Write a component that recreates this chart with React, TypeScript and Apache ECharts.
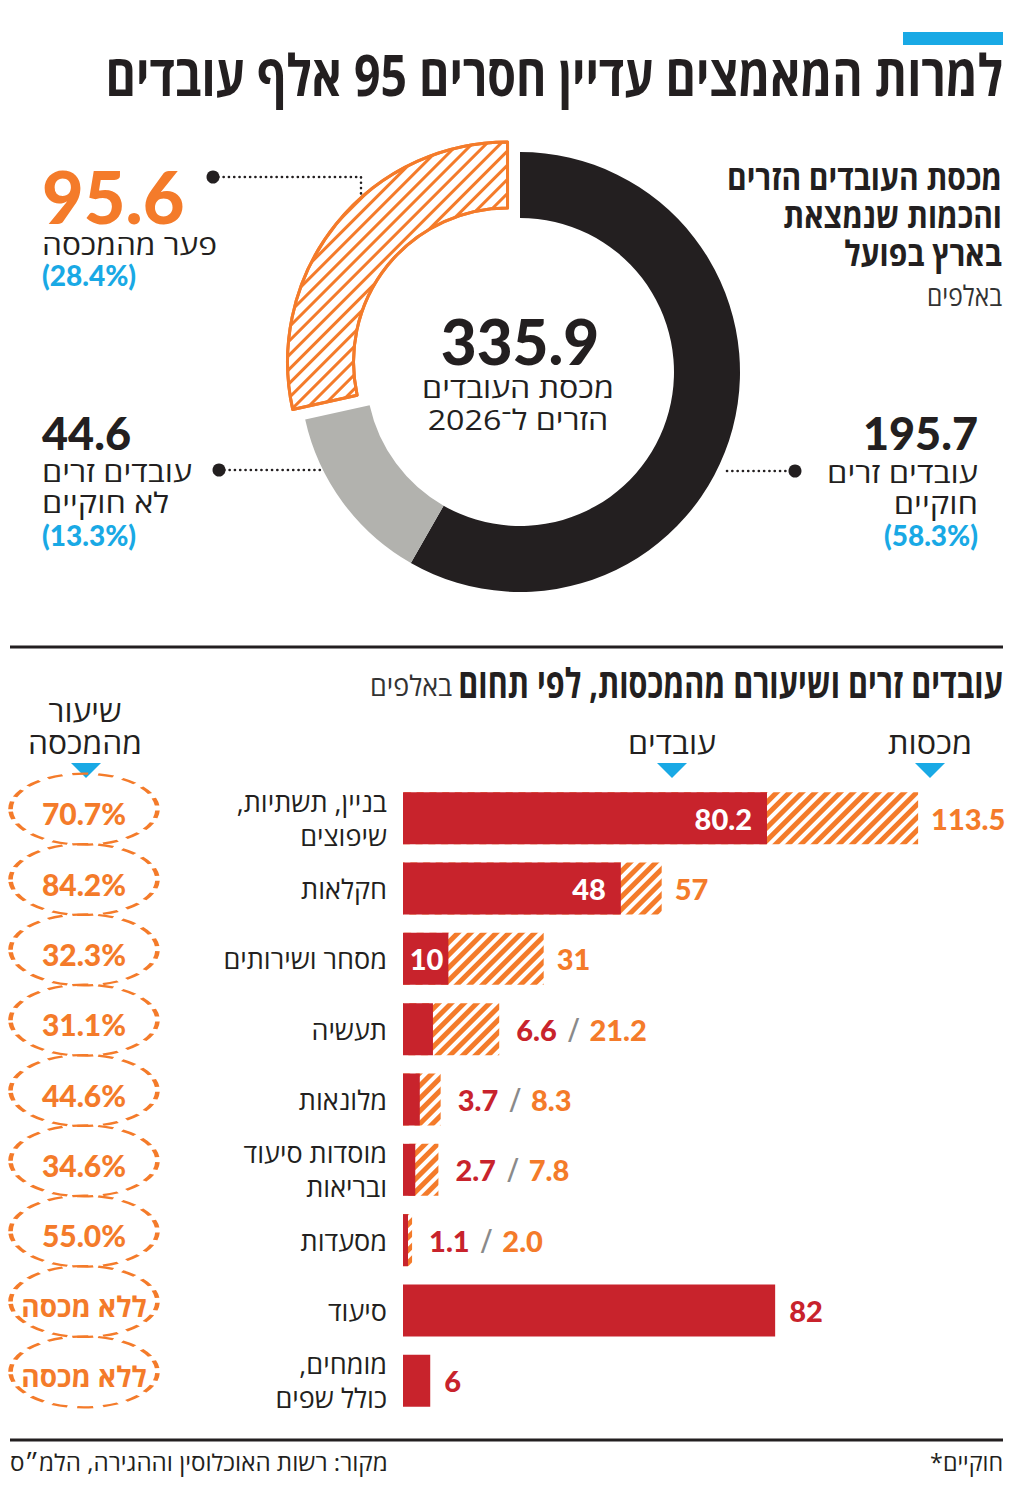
import React, { useEffect, useRef } from 'react';
import * as echarts from 'echarts';

// Palette
const BLACK = '#231f20';
const GRAY = '#b2b2ae';
const ORANGE = '#f47b2a';
const RED = '#c8232c';
const BLUE = '#19a9e5';
const SLASH = '#8a8a8a';

const HEB = '"Open Sans", "Liberation Sans", "DejaVu Sans", sans-serif';
const NUM = 'Lato, "Open Sans", "DejaVu Sans", sans-serif';

// Headline texts
const titleText = 'למרות המאמצים עדיין חסרים 95 אלף עובדים';
const donutHeading = 'מכסת העובדים הזרים\nוהכמות שנמצאת\nבארץ בפועל';
const unitText = 'באלפים';
const centerCaption = 'מכסת העובדים\nהזרים ל־2026';

// Donut: legal workers, illegal workers, gap from the quota (thousands)
const donutNames = ['עובדים זרים\nחוקיים', 'עובדים זרים\nלא חוקיים', 'פער מהמכסה'];
const donutValues = [195.7, 44.6, 95.6];
const donutShares = ['58.3%', '13.3%', '28.4%'];

// Sectors (thousands)
const sectors = [
  'בניין, תשתיות,\nשיפוצים',
  'חקלאות',
  'מסחר ושירותים',
  'תעשיה',
  'מלונאות',
  'מוסדות סיעוד\nובריאות',
  'מסעדות',
  'סיעוד',
  'מומחים,\nכולל שפים',
];
const workers = [80.2, 48, 10, 6.6, 3.7, 2.7, 1.1, 82, 6];
const quotas: (number | null)[] = [113.5, 57, 31, 21.2, 8.3, 7.8, 2.0, null, null];

const sectorTitle = 'עובדים זרים ושיעורם מהמכסות, לפי תחום';
const colQuota = 'מכסות';
const colWorkers = 'עובדים';
const colShare = 'שיעור\nמהמכסה';
const noQuota = 'ללא מכסה';
const sourceText = 'מקור: רשות האוכלוסין וההגירה, הלמ״ס';
const footnote = 'חוקיים*';

// right-to-left embedding for every line of Hebrew text
const rtl = (s: string) =>
  s.split('\n').map((l) => '\u202B' + l + '\u202C').join('\n');

let measureCtx: CanvasRenderingContext2D | null = null;
function measure(text: string, font: string): number {
  if (!measureCtx) measureCtx = document.createElement('canvas').getContext('2d');
  measureCtx!.font = font;
  return Math.max(...text.split('\n').map((l) => measureCtx!.measureText(l).width));
}

type TOpt = {
  size: number;
  weight?: string | number;
  family?: string;
  color?: string;
  align?: 'left' | 'right' | 'center';
  width?: number;
  lh?: number;
};

function label(x: number, y: number, text: string, o: TOpt) {
  const font = `${o.weight ?? 500} ${o.size}px ${o.family ?? HEB}`;
  const sx = o.width ? o.width / measure(text, font) : 1;
  return {
    type: 'text',
    x,
    y,
    scaleX: sx,
    silent: true,
    style: {
      text,
      font,
      fill: o.color ?? BLACK,
      textAlign: o.align ?? 'right',
      textVerticalAlign: 'middle',
      lineHeight: o.lh,
    },
  };
}

const dotted = (points: number[][]) => ({
  type: 'polyline',
  silent: true,
  shape: { points },
  style: { stroke: BLACK, lineWidth: 2.6, lineDash: [0.1, 5.2], lineCap: 'round', fill: null },
});
const dot = (cx: number, cy: number) => ({
  type: 'circle',
  silent: true,
  shape: { cx, cy, r: 6.5 },
  style: { fill: BLACK },
});
const triangle = (x: number, y: number) => ({
  type: 'polygon',
  silent: true,
  shape: { points: [[x - 15, y], [x + 15, y], [x, y + 15]] },
  style: { fill: BLUE },
});
const rule = (y: number) => ({
  type: 'line',
  silent: true,
  shape: { x1: 10, y1: y, x2: 1003, y2: y },
  style: { stroke: BLACK, lineWidth: 3 },
});

const barHatch = {
  symbol: 'rect',
  symbolSize: 1,
  dashArrayX: [1, 0],
  dashArrayY: [4.4, 3.6],
  rotation: -Math.PI / 4,
  color: ORANGE,
};
const ringHatch = {
  symbol: 'rect',
  symbolSize: 1,
  dashArrayX: [1, 0],
  dashArrayY: [3, 7],
  rotation: -Math.PI / 4,
  color: ORANGE,
};

const fmtBar = (v: number, i: number) =>
  quotas[i] != null && workers[i] < 10 ? v.toFixed(1) : String(v);

const numStyle = (color: string) => ({
  color,
  fontSize: 29,
  fontWeight: 900,
  fontFamily: NUM,
});

function buildOption() {
  const total = donutValues.reduce((a, b) => a + b, 0);
  const ellipse =
    'path://M0,50C0,22.4 22.4,0 50,0C77.6,0 100,22.4 100,50C100,77.6 77.6,100 50,100C22.4,100 0,77.6 0,50Z';

  const graphic: any[] = [
    { type: 'rect', silent: true, shape: { x: 903, y: 32, width: 100, height: 13 }, style: { fill: BLUE } },
    label(1003, 74, rtl(titleText), { size: 57, weight: 'bold', width: 898 }),
    label(1002, 215, rtl(donutHeading), { size: 35, weight: 'bold', width: 275, lh: 38 }),
    label(1002, 295, rtl(unitText), { size: 28, color: '#333', width: 75 }),

    // donut centre
    label(520, 341, total.toFixed(1), { size: 62, weight: 900, family: NUM, align: 'center' }),
    label(518, 403, rtl(centerCaption), { size: 28, align: 'center', width: 192, lh: 32 }),

    // leaders
    dotted([[213, 177], [361, 177], [361, 232]]),
    dot(213, 177),
    dotted([[219, 470], [352, 470]]),
    dot(219, 470),
    dotted([[727, 471], [795, 471]]),
    dot(795, 471),

    // quota gap
    label(42, 196, donutValues[2].toFixed(1), { size: 72, weight: 900, family: NUM, color: ORANGE, align: 'left' }),
    label(42, 244, rtl(donutNames[2]), { size: 28, align: 'left', width: 175 }),
    label(42, 275, `(${donutShares[2]})`, { size: 28, weight: 900, family: NUM, color: BLUE, align: 'left' }),
    // illegal
    label(42, 433, donutValues[1].toFixed(1), { size: 45, weight: 900, family: NUM, align: 'left' }),
    label(42, 487, rtl(donutNames[1]), { size: 28, align: 'left', width: 150, lh: 31 }),
    label(42, 535, `(${donutShares[1]})`, { size: 28, weight: 900, family: NUM, color: BLUE, align: 'left' }),
    // legal
    label(978, 433, donutValues[0].toFixed(1), { size: 45, weight: 900, family: NUM, align: 'right' }),
    label(978, 487, rtl(donutNames[0]), { size: 28, align: 'right', width: 151, lh: 31 }),
    label(978, 535, `(${donutShares[0]})`, { size: 28, weight: 900, family: NUM, color: BLUE, align: 'right' }),

    rule(647),
    label(1003, 682, rtl(sectorTitle), { size: 41, weight: 'bold', width: 545 }),
    label(452, 685, rtl(unitText), { size: 28, color: '#333', width: 82 }),

    label(85, 726, rtl(colShare), { size: 30, align: 'center', width: 114, lh: 32 }),
    label(672, 742, rtl(colWorkers), { size: 30, align: 'center', width: 88 }),
    label(930, 742, rtl(colQuota), { size: 30, align: 'center', width: 84 }),
    triangle(86, 763),
    triangle(672, 763),
    triangle(930, 763),

    rule(1440),
    label(10, 1462, rtl(sourceText), { size: 23, align: 'left', width: 378 }),
    label(1003, 1462, rtl(footnote), { size: 23, align: 'right', width: 73 }),
  ];

  return {
    animation: false,
    backgroundColor: '#fff',
    graphic,
    grid: [
      { left: 403, top: 783, width: 590, height: 633 },
      { left: 10, top: 783, width: 148, height: 633 },
    ],
    xAxis: [
      { gridIndex: 0, type: 'value', min: 0, max: 130, show: false },
      { gridIndex: 1, type: 'value', min: 0, max: 1, show: false },
    ],
    yAxis: [
      {
        gridIndex: 0,
        type: 'category',
        inverse: true,
        data: sectors,
        axisLine: { show: false },
        axisTick: { show: false },
        splitLine: { show: false },
        axisLabel: {
          margin: 16,
          fontSize: 27,
          fontWeight: 500,
          lineHeight: 34,
          color: BLACK,
          fontFamily: HEB,
          formatter: (v: string) => rtl(v),
        },
      },
      { gridIndex: 1, type: 'category', inverse: true, data: sectors, show: false },
    ],
    series: [
      {
        type: 'pie',
        center: [520, 372],
        radius: [154, 220],
        startAngle: 90,
        clockwise: true,
        selectedMode: 'single',
        selectedOffset: 16,
        label: { show: false },
        labelLine: { show: false },
        emphasis: { disabled: true },
        data: donutValues.map((v, i) => {
          const style =
            i === 2
              ? { color: '#fff', borderColor: ORANGE, borderWidth: 3, decal: ringHatch }
              : { color: [BLACK, GRAY][i], borderWidth: 0 };
          return {
            value: v,
            name: donutNames[i],
            selected: i === 2,
            itemStyle: style,
            select: { itemStyle: style },
          };
        }),
      },
      {
        type: 'bar',
        name: colQuota,
        xAxisIndex: 0,
        yAxisIndex: 0,
        barWidth: 52,
        barGap: '-100%',
        z: 2,
        itemStyle: { color: '#fff', decal: barHatch },
        emphasis: { disabled: true },
        data: quotas.map((q, i) =>
          q == null
            ? null
            : {
                value: q,
                label: {
                  show: true,
                  position: 'right',
                  distance: workers[i] < 10 ? 17 : 13,
                  formatter:
                    workers[i] < 10
                      ? `{r|${fmtBar(workers[i], i)}}{s|/}{o|${fmtBar(q, i)}}`
                      : `{o|${fmtBar(q, i)}}`,
                  rich: {
                    r: numStyle(RED),
                    s: { color: SLASH, fontSize: 32, fontFamily: HEB, padding: [0, 10, 0, 11] },
                    o: numStyle(ORANGE),
                  },
                },
              }
        ),
      },
      {
        type: 'bar',
        name: colWorkers,
        xAxisIndex: 0,
        yAxisIndex: 0,
        barWidth: 52,
        barGap: '-100%',
        z: 3,
        itemStyle: { color: RED },
        emphasis: { disabled: true },
        data: workers.map((w, i) => {
          const hasQuota = quotas[i] != null;
          if (hasQuota && w < 10) return { value: w };
          return {
            value: w,
            label: {
              show: true,
              position: hasQuota ? 'insideRight' : 'right',
              distance: hasQuota ? (w > 20 ? 15 : 5) : 14,
              formatter: fmtBar(w, i),
              ...numStyle(hasQuota ? '#fff' : RED),
            },
          };
        }),
      },
      {
        type: 'scatter',
        xAxisIndex: 1,
        yAxisIndex: 1,
        silent: true,
        symbol: ellipse,
        symbolSize: [147, 71],
        symbolOffset: [0, -9],
        itemStyle: {
          color: 'rgba(0,0,0,0)',
          opacity: 1,
          borderColor: ORANGE,
          borderWidth: 3.2,
          borderType: [11, 7],
        },
        data: workers.map((w, i) => {
          const q = quotas[i];
          const txt = q == null ? rtl(noQuota) : ((w / q) * 100).toFixed(1) + '%';
          return {
            value: [0.5, i],
            label: {
              show: true,
              position: 'inside',
              offset: [0, 4],
              formatter: txt,
              color: ORANGE,
              fontWeight: q == null ? 'bold' : 900,
              fontSize: q == null ? 28 : 30,
              fontFamily: q == null ? HEB : NUM,
            },
          };
        }),
      },
    ],
  };
}

export default function App() {
  const ref = useRef<HTMLDivElement>(null);
  useEffect(() => {
    document.body.style.margin = '0';
    const chart = echarts.init(ref.current!, null, { renderer: 'svg' });
    chart.setOption(buildOption() as any);
    return () => chart.dispose();
  }, []);
  return <div ref={ref} style={{ width: 1024, height: 1485 }} />;
}
